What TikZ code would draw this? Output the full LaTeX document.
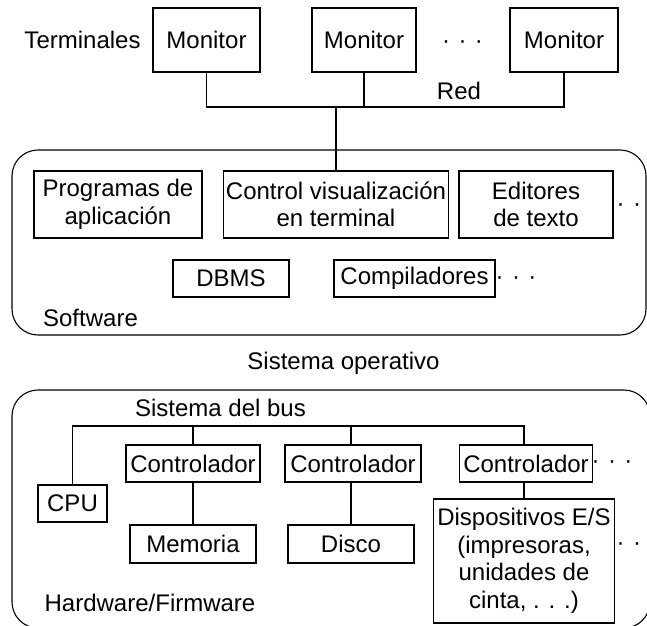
\documentclass[tikz,border=0pt]{standalone}
\usepackage{fontspec}
\setmainfont{Liberation Sans}
\newcommand\puntos{·\hspace{0.35em}·\hspace{0.35em}·}
\begin{document}
\begin{tikzpicture}[x=1pt,y=-1pt,
    every node/.style={font=\fontsize{24}{27.5}\selectfont},
    box/.style={draw, line width=1.1pt, inner sep=2pt, align=center},
    layer/.style={draw, line width=1.1pt, rounded corners=26pt},
    wire/.style={line width=1.1pt}]
    \useasboundingbox (0,0) rectangle (647,625);

    % terminales
    \node (term) at (82.5,40) {Terminales};
    \node[box, minimum width=107pt, minimum height=64pt] (mon1) at (206.5,40) {Monitor};
    \node[box, minimum width=104pt, minimum height=64pt] (mon2) at (364,40) {Monitor};
    \node (dotsT) at (462.5,45) {\puntos};
    \node[box, minimum width=108pt, minimum height=64pt] (mon3) at (564,40) {Monitor};
    \node (red) at (459,91) {Red};

    % software
    \node[layer, minimum width=634pt, minimum height=185pt] (sw) at (329,242.5) {};
    \node[box, minimum width=168pt, minimum height=67pt] (prog) at (118,204.5) {Programas de\\aplicación};
    \node[box, minimum width=225pt, minimum height=67pt] (ctrl) at (336,204.5) {Control visualización\\en terminal};
    \node[box, minimum width=154pt, minimum height=67pt] (edit) at (536,204.5) {Editores\\de texto};
    \node (dotsE) at (637,208) {\puntos};
    \node[box, minimum width=116pt, minimum height=37pt] (dbms) at (231,278.5) {DBMS};
    \node[box, minimum width=161pt, minimum height=37pt] (comp) at (414.5,278.5) {Compiladores};
    \node (dotsC) at (516,281) {\puntos};
    \node (swlbl) at (90.5,318) {Software};

    \coordinate (netY) at (0,107);
    \coordinate (net) at (ctrl.north |- netY);
    \draw[wire] (mon1.south) |- (net) -| (mon3.south);
    \draw[wire] (mon2.south) -- (mon2.south |- net);
    \draw[wire] (net) -- (ctrl.north);

    \node (so) at (343.5,363) {Sistema operativo};

    % hardware
    \node[layer, minimum width=638pt, minimum height=238pt] (hw) at (331,509) {};
    \node (bus) at (220.5,408) {Sistema del bus};
    \node[box, minimum width=69pt, minimum height=37pt] (cpu) at (72.5,503.5) {CPU};
    \node[box, minimum width=134pt, minimum height=37pt] (ctl1) at (193,463.5) {Controlador};
    \node[box, minimum width=136pt, minimum height=37pt] (ctl2) at (353,463.5) {Controlador};
    \node[box, minimum width=133pt, minimum height=37pt] (ctl3) at (526,463.5) {Controlador};
    \node (dotsK) at (612,465) {\puntos};
    \node[box, minimum width=126pt, minimum height=38pt] (mem) at (193,544) {Memoria};
    \node[box, minimum width=126pt, minimum height=38pt] (disk) at (351,544) {Disco};
    \node[box, minimum width=181pt, minimum height=124pt] (dev) at (524,561) {Dispositivos E/S\\(impresoras,\\unidades de\\cinta, . . .)};
    \node (dotsD) at (637,547) {\puntos};
    \node (hwlbl) at (150,603) {Hardware/Firmware};

    \coordinate (busY) at (0,426);
    \draw[wire] (cpu.north) |- (dev.north |- busY) -- (dev.north |- ctl3.north);
    \draw[wire] (mem.north |- ctl1.north) -- (mem.north |- busY);
    \draw[wire] (disk.north |- ctl2.north) -- (disk.north |- busY);
    \draw[wire] (mem.north |- ctl1.south) -- (mem.north);
    \draw[wire] (disk.north |- ctl2.south) -- (disk.north);
    \draw[wire] (dev.north |- ctl3.south) -- (dev.north);
\end{tikzpicture}
\end{document}
